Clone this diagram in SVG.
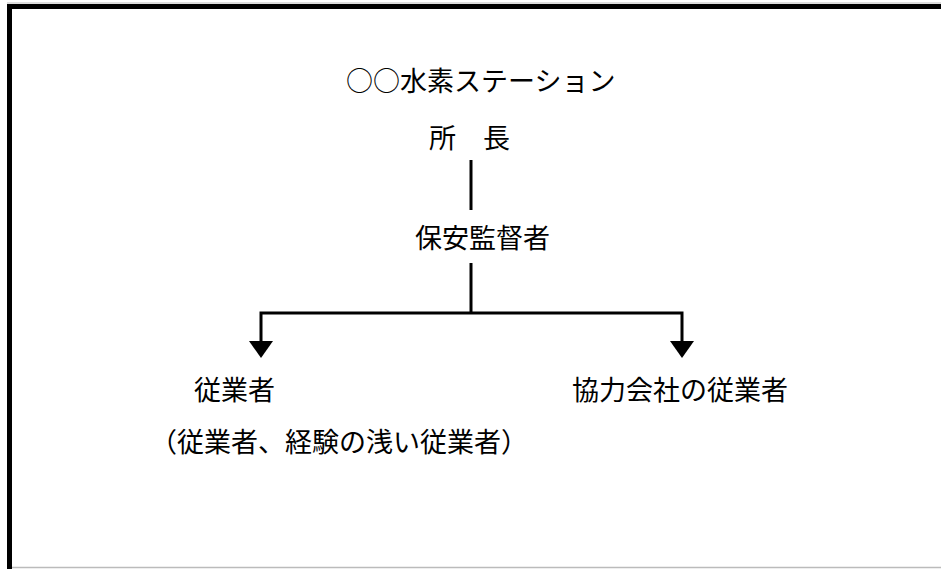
<svg xmlns="http://www.w3.org/2000/svg" width="941" height="569" viewBox="0 0 941 569">
<defs>
<style>
.t{font-family:"Noto Sans CJK JP","Noto Sans CJK SC",sans-serif;font-size:27px;fill:#000}
.c{stroke:#000;stroke-width:3;fill:none}
.ah{fill:#000}
</style>
</defs>
<rect width="941" height="569" fill="#fff"/>
<g id="frame">
<line x1="7" y1="3" x2="941" y2="3" stroke="#bbb" stroke-width="1"/>
<rect x="7" y="4" width="934" height="5" fill="#000"/>
<rect x="7" y="4" width="5" height="565" fill="#000"/>
<line x1="12" y1="567.5" x2="941" y2="567.5" stroke="#bbb" stroke-width="1.5"/>
</g>
<g id="connectors">
<line class="c" x1="471" y1="160" x2="471" y2="210"/>
<polyline class="c" points="471,263 471,313"/>
<polyline class="c" points="261,345 261,313 682,313 682,345"/>
<path class="ah" d="M249,341 L273,341 L261,358 Z"/>
<path class="ah" d="M670,341 L694,341 L682,358 Z"/>
</g>
<g id="node-station">
<text class="t" x="346" y="91">○○水素ステーション</text>
</g>
<g id="node-director">
<text class="t" x="429" y="148">所　長</text>
</g>
<g id="node-supervisor">
<text class="t" x="415" y="248">保安監督者</text>
</g>
<g id="node-employees">
<text class="t" x="194" y="400">従業者</text>
<text class="t" x="150" y="452">（従業者、経験の浅い従業者）</text>
</g>
<g id="node-partner">
<text class="t" x="572" y="400">協力会社の従業者</text>
</g>
</svg>
